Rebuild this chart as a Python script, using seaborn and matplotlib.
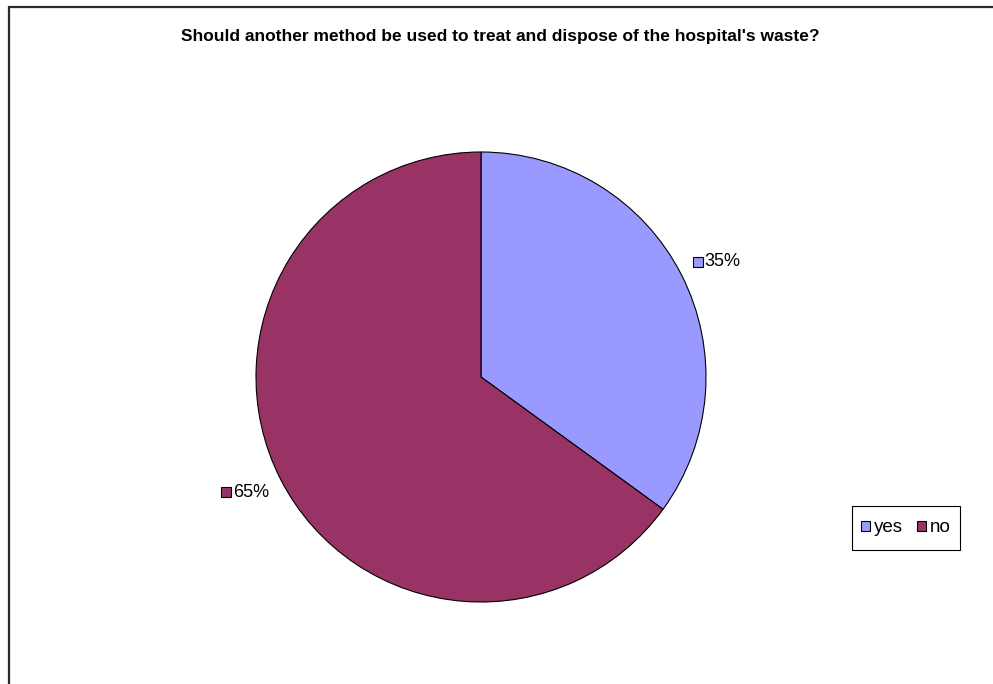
import numpy as np
import matplotlib
matplotlib.use("Agg")
import matplotlib.pyplot as plt
from matplotlib.patches import Patch, Rectangle
import seaborn as sns

# Survey answers
answers = ["yes", "no"]
shares = [35, 65]
colors = ["#9999FF", "#993366"]
title = "Should another method be used to treat and dispose of the hospital's waste?"

sns.set_theme(style="white")
plt.rcParams["font.family"] = ["Liberation Sans", "DejaVu Sans"]
plt.rcParams["text.color"] = "black"

W, H = 993, 684
fig = plt.figure(figsize=(W / 100, H / 100), dpi=100)
ax = fig.add_axes([0, 0, 1, 1])

# Chart area border (runs off the right and bottom edges)
ax.plot([8.5, 8.5, W + 10], [-10, H - 7, H - 7], color="#2a2a2a", lw=1.6,
        solid_joinstyle="miter", clip_on=False)

cx, cy, R = 481, H - 377, 225
wedges, _ = ax.pie(shares, colors=colors, startangle=90, counterclock=False,
                   center=(cx, cy), radius=R,
                   wedgeprops=dict(edgecolor="black", linewidth=0.8))
ax.set_xlim(0, W)
ax.set_ylim(0, H)
ax.set_aspect("equal")
ax.axis("off")

# Percentage labels with a colour key square, placed beside each slice
total = sum(shares)
for w, v, c in zip(wedges, shares, colors):
    mid = np.deg2rad((w.theta1 + w.theta2) / 2)
    r = R * 1.058
    x = cx + r * np.cos(mid)
    y = cy + r * np.sin(mid) + 7 * np.sign(np.sin(mid))
    label = f"{v / total:.0%}"
    if np.cos(mid) >= 0:
        ax.plot(x + 5, y, marker="s", ms=6.5, mfc=c, mec="black", mew=0.8)
        ax.text(x + 11, y, label, ha="left", va="center", fontsize=13)
    else:
        ax.text(x, y, label, ha="right", va="center", fontsize=13)
        ax.plot(x - 43, y, marker="s", ms=6.5, mfc=c, mec="black", mew=0.8)

ax.text(500, H - 36, title, ha="center", va="center", fontsize=12.5,
        fontweight="bold")

handles = [Patch(facecolor=c, edgecolor="black", linewidth=0.8) for c in colors]
leg = ax.legend(handles, answers, ncol=2, loc="center",
                bbox_to_anchor=(906 / W, 1 - 528 / H), bbox_transform=fig.transFigure,
                fontsize=13.5, frameon=False, handlelength=0.5,
                handleheight=0.5, handletextpad=0.2, columnspacing=0.75,
                borderpad=0.0)

# Legend frame with a taller box than the default padding allows
fig.canvas.draw()
bb = leg.get_window_extent()
px, py = 8.5, 13.5
fig.patches.append(Rectangle((bb.x0 - px, bb.y0 - py), bb.width + 2 * px,
                             bb.height + 2 * py, transform=None, fill=False,
                             edgecolor="black", linewidth=0.8))

fig.savefig("out.png", dpi=100, facecolor="white")
